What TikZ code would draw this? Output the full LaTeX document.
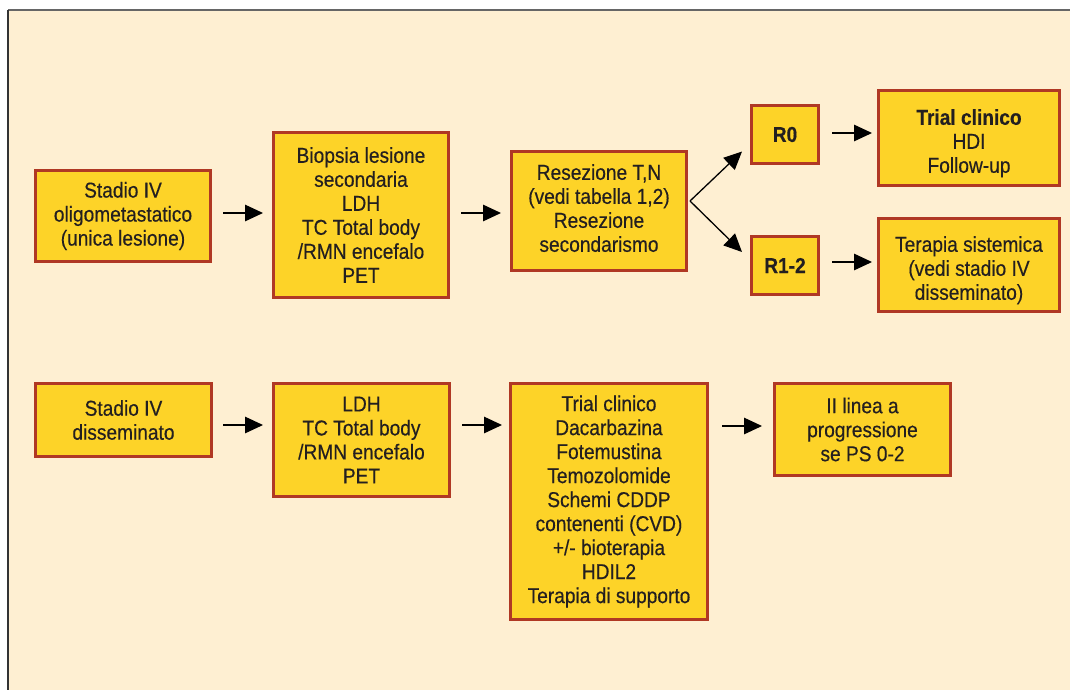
\documentclass[tikz,border=0pt]{standalone}
\usepackage{fontspec}
\setmainfont{Liberation Sans}[FakeStretch=0.89,FakeBold=0.4]
\usetikzlibrary{arrows.meta}
\definecolor{pagecream}{RGB}{254,239,210}
\definecolor{boxfill}{RGB}{253,211,40}
\definecolor{boxline}{RGB}{176,56,36}
\definecolor{inkgrey}{RGB}{35,31,32}
\newcommand{\topgap}{\rule{0pt}{26pt}}
\tikzset{
  flowbox/.style={draw=boxline, fill=boxfill, line width=3pt, align=center,
    text=inkgrey, inner sep=0pt,
    font=\fontsize{21.5}{24}\selectfont},
  boldbox/.style={flowbox, font=\fontsize{21.5}{24}\selectfont\bfseries},
  arr/.style={-{Triangle[length=18pt,width=16.5pt]}, line width=1.3pt, black},
}
\begin{document}
\begin{tikzpicture}[x=1pt,y=-1pt]
\useasboundingbox (0,0) rectangle (1070,690);
% page background and frame
\fill[white] (0,0) rectangle (1070,690);
\fill[pagecream] (8,10) rectangle (1070,690);
\draw[line width=2pt, gray!80!black] (8,10) -- (1070,10);
\draw[line width=2pt, black!80] (8,10) -- (8,690);

% first row: oligometastatic stage
\node[flowbox, minimum width=175, minimum height=91] (s1) at (123,216)
  {Stadio IV\\oligometastatico\\(unica lesione)};
\node[flowbox, minimum width=175, minimum height=165] (bio) at (361,215)
  {Biopsia lesione\\secondaria\\LDH\\TC Total body\\/RMN encefalo\\PET};
\node[flowbox, minimum width=175, minimum height=119] (res) at (599,211)
  {Resezione T,N\\(vedi tabella 1,2)\\Resezione\\secondarismo\rule[-6pt]{0pt}{6pt}};
\node[boldbox, minimum width=67, minimum height=58] (r0) at (785,134.5) {R0};
\node[boldbox, minimum width=67, minimum height=58] (r12) at (785,265.5) {R1-2};
\node[flowbox, minimum width=181, minimum height=95] (tc) at (969,138)
  {\topgap\textbf{Trial clinico}\\HDI\\Follow-up};
\node[flowbox, minimum width=181, minimum height=93] (ts) at (969,265)
  {\topgap Terapia sistemica\\(vedi stadio IV\\disseminato)};

% second row: disseminated stage
\node[flowbox, minimum width=176, minimum height=73] (s2) at (123.5,420)
  {Stadio IV\\disseminato};
\node[flowbox, minimum width=176, minimum height=113] (ldh) at (361.5,440)
  {LDH\\TC Total body\\/RMN encefalo\\PET};
\node[flowbox, minimum width=197, minimum height=236] (tcb) at (609,501.5)
  {Trial clinico\\Dacarbazina\\Fotemustina\\Temozolomide\\Schemi CDDP\\contenenti (CVD)\\+/- bioterapia\\HDIL2\\Terapia di supporto};
\node[flowbox, minimum width=176, minimum height=92] (ii) at (862.5,429.5)
  {II linea a\\progressione\\se PS 0-2};

% connectors, first row
\draw[arr, shorten <=11pt, shorten >=9pt] ([yshift=3pt]s1.east) -- ([yshift=3pt]s1.east -| bio.west);
\draw[arr, shorten <=11pt, shorten >=9pt] ([yshift=2pt]bio.east) -- ([yshift=2pt]bio.east -| res.west);
\coordinate (fork) at ([xshift=2pt,yshift=10pt]res.east);
\draw[arr] (fork) -- ([shift={(-8pt,-17pt)}]r0.west);
\draw[arr] (fork) -- ([shift={(-8pt,13.5pt)}]r12.west);
\draw[arr, shorten <=12pt, shorten >=5pt] ([yshift=1.5pt]r0.east) -- ([yshift=1.5pt]r0.east -| tc.west);
\draw[arr, shorten <=12pt, shorten >=5pt] ([yshift=3.5pt]r12.east) -- ([yshift=3.5pt]r12.east -| ts.west);

% connectors, second row
\draw[arr, shorten <=10pt, shorten >=9pt] ([yshift=-5pt]s2.east) -- ([yshift=-5pt]s2.east -| ldh.west);
\draw[arr, shorten <=11pt, shorten >=7pt] ([yshift=15pt]ldh.east) -- ([yshift=15pt]ldh.east -| tcb.west);
\draw[arr, shorten <=13pt, shorten >=11pt] ([yshift=75.5pt]tcb.east) -- ([yshift=75.5pt]tcb.east -| ii.west);
\end{tikzpicture}
\end{document}
